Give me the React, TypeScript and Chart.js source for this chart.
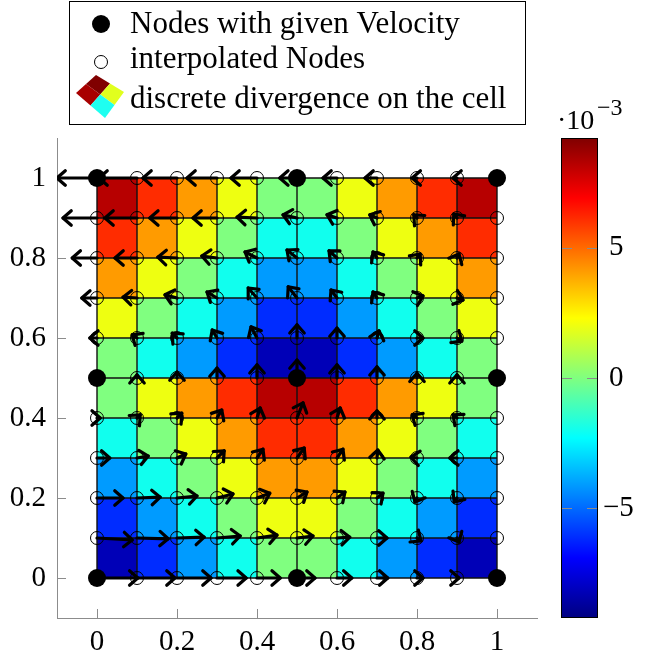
import React, { useEffect, useRef } from 'react';
import { Chart, registerables } from 'chart.js';

Chart.register(...registerables);

// Mesh node coordinates (unit square, 10 x 10 cells)
const NODE_X = [0, 0.1, 0.2, 0.3, 0.4, 0.5, 0.6, 0.7, 0.8, 0.9, 1];
const NODE_Y = [0, 0.1, 0.2, 0.3, 0.4, 0.5, 0.6, 0.7, 0.8, 0.9, 1];
// Nodes where the velocity is prescribed
const GIVEN_X = [0, 0.5, 1];
const GIVEN_Y = [0, 0.5, 1];

// Axis ticks
const X_TICKS = [0, 0.2, 0.4, 0.6, 0.8, 1];
const Y_TICKS = [0, 0.2, 0.4, 0.6, 0.8, 1];

// Discrete divergence per cell, in units of 1e-3 (rows from y = 0 upwards)
const DIV_ROW_0 = [-8.2, -6.1, -4.1, -2.0, 0, 0, -2.0, -4.1, -6.1, -8.2];
const DIV_ROW_1 = [-6.1, -4.1, -2.0, 0, 2.0, 2.0, 0, -2.0, -4.1, -6.1];
const DIV_ROW_2 = [-4.1, -2.0, 0, 2.0, 4.1, 4.1, 2.0, 0, -2.0, -4.1];
const DIV_ROW_3 = [-2.0, 0, 2.0, 4.1, 6.1, 6.1, 4.1, 2.0, 0, -2.0];
const DIV_ROW_4 = [0, 2.0, 4.1, 6.1, 8.2, 8.2, 6.1, 4.1, 2.0, 0];
const DIV_ROW_5 = [0, -2.0, -4.1, -6.1, -8.2, -8.2, -6.1, -4.1, -2.0, 0];
const DIV_ROW_6 = [2.0, 0, -2.0, -4.1, -6.1, -6.1, -4.1, -2.0, 0, 2.0];
const DIV_ROW_7 = [4.1, 2.0, 0, -2.0, -4.1, -4.1, -2.0, 0, 2.0, 4.1];
const DIV_ROW_8 = [6.1, 4.1, 2.0, 0, -2.0, -2.0, 0, 2.0, 4.1, 6.1];
const DIV_ROW_9 = [8.2, 6.1, 4.1, 2.0, 0, 0, 2.0, 4.1, 6.1, 8.2];
const DIVERGENCE = [DIV_ROW_0, DIV_ROW_1, DIV_ROW_2, DIV_ROW_3, DIV_ROW_4, DIV_ROW_5, DIV_ROW_6, DIV_ROW_7, DIV_ROW_8, DIV_ROW_9];

// Velocity at every node, x component (rows from y = 0 upwards)
const U_ROW_0 = [0.102, 0.095, 0.085, 0.073, 0.058, 0.045, 0.037, 0.027, 0.015, 0.005, 0];
const U_ROW_1 = [0.088, 0.078, 0.068, 0.058, 0.05, 0.04, 0.032, 0.025, 0.01, 0.005, 0];
const U_ROW_2 = [0.065, 0.058, 0.05, 0.04, 0.032, 0.025, 0.02, 0.015, -0.005, -0.007, 0];
const U_ROW_3 = [0.032, 0.028, 0.022, 0.018, 0.015, 0.018, 0.015, 0.002, -0.015, -0.018, 0];
const U_ROW_4 = [0.008, 0.008, 0.012, 0.012, 0.008, 0.015, 0.008, 0, -0.012, -0.01, 0];
const U_ROW_5 = [0, 0, 0, 0, 0, 0, 0, 0, 0, 0, 0];
const U_ROW_6 = [-0.018, -0.012, -0.012, -0.012, -0.015, 0, 0, 0.005, 0.015, 0.012, 0];
const U_ROW_7 = [-0.038, -0.035, -0.03, -0.025, -0.022, -0.022, -0.015, -0.01, 0.015, 0.015, 0];
const U_ROW_8 = [-0.062, -0.055, -0.048, -0.038, -0.03, -0.025, -0.02, -0.01, 0.008, 0.005, 0];
const U_ROW_9 = [-0.085, -0.08, -0.068, -0.06, -0.05, -0.035, -0.025, -0.018, -0.008, -0.008, 0];
const U_ROW_10 = [-0.1, -0.095, -0.085, -0.075, -0.065, -0.043, -0.035, -0.03, -0.012, -0.01, 0];
const VEL_U = [U_ROW_0, U_ROW_1, U_ROW_2, U_ROW_3, U_ROW_4, U_ROW_5, U_ROW_6, U_ROW_7, U_ROW_8, U_ROW_9, U_ROW_10];

// Velocity at every node, y component (rows from y = 0 upwards)
const V_ROW_0 = [0, 0, 0, 0, 0, 0, 0, 0, 0, 0, 0];
const V_ROW_1 = [-0.005, -0.002, 0.002, 0.005, 0.007, 0.005, 0.002, 0, -0.007, -0.01, 0];
const V_ROW_2 = [0, 0.002, 0.005, 0.01, 0.012, 0.015, 0.015, 0.012, -0.01, -0.01, 0];
const V_ROW_3 = [0, 0.005, 0.01, 0.018, 0.022, 0.025, 0.022, 0.02, 0.002, 0, 0];
const V_ROW_4 = [0, 0.008, 0.012, 0.02, 0.025, 0.038, 0.025, 0.018, 0.008, 0.008, 0];
const V_ROW_5 = [0, 0.008, 0.015, 0.025, 0.033, 0.045, 0.033, 0.028, 0.012, 0.008, 0];
const V_ROW_6 = [0, 0.008, 0.012, 0.02, 0.028, 0.033, 0.025, 0.018, 0, -0.008, 0];
const V_ROW_7 = [0, 0.002, 0.008, 0.015, 0.025, 0.028, 0.02, 0.015, 0.005, -0.005, 0];
const V_ROW_8 = [0, 0, 0.002, 0.005, 0.015, 0.02, 0.018, 0.015, 0.01, 0.01, 0];
const V_ROW_9 = [0, 0, 0, 0, 0.002, 0.008, 0.008, 0.008, 0.008, 0.01, 0];
const V_ROW_10 = [0, 0, 0, 0, 0, 0, 0, 0, 0, 0, 0];
const VEL_V = [V_ROW_0, V_ROW_1, V_ROW_2, V_ROW_3, V_ROW_4, V_ROW_5, V_ROW_6, V_ROW_7, V_ROW_8, V_ROW_9, V_ROW_10];

// Colour bar (units of 1e-3)
const CB_MIN = -9.2;
const CB_MAX = 9.2;
const CB_TICKS = [-5, 0, 5];
const CB_EXPONENT = '−3';

const LEGEND_LABELS = ['Nodes with given Velocity', 'interpolated Nodes', 'discrete divergence on the cell'];

const SERIF = '"Liberation Serif", "Times New Roman", serif';
const AXIS_GRAY = '#8c8c8c';

// pgfplots "jet" colour map
const JET_STOPS: [number, number, number, number][] = [
  [0, 0, 0, 128],
  [0.125, 0, 0, 255],
  [0.375, 0, 255, 255],
  [0.625, 255, 255, 0],
  [0.875, 255, 0, 0],
  [1, 128, 0, 0],
];

function jet(t: number): string {
  const tt = Math.max(0, Math.min(1, t));
  for (let k = 1; k < JET_STOPS.length; k++) {
    const b = JET_STOPS[k];
    if (tt <= b[0]) {
      const a = JET_STOPS[k - 1];
      const f = (tt - a[0]) / (b[0] - a[0]);
      const r = Math.round(a[1] + (b[1] - a[1]) * f);
      const g = Math.round(a[2] + (b[2] - a[2]) * f);
      const bl = Math.round(a[3] + (b[3] - a[3]) * f);
      return `rgb(${r},${g},${bl})`;
    }
  }
  return 'rgb(128,0,0)';
}

function drawArrow(ctx: CanvasRenderingContext2D, x0: number, y0: number, x1: number, y1: number) {
  const dx = x1 - x0;
  const dy = y1 - y0;
  if (Math.hypot(dx, dy) < 0.5) return;
  const ang = Math.atan2(dy, dx);
  ctx.beginPath();
  ctx.moveTo(x0, y0);
  ctx.lineTo(x1, y1);
  ctx.stroke();
  const h = 11;
  const spread = 0.72;
  ctx.beginPath();
  ctx.moveTo(x1 - h * Math.cos(ang - spread), y1 - h * Math.sin(ang - spread));
  ctx.lineTo(x1, y1);
  ctx.lineTo(x1 - h * Math.cos(ang + spread), y1 - h * Math.sin(ang + spread));
  ctx.stroke();
}

// Cells, cell edges and velocity arrows, drawn beneath the node markers
const fieldPlugin = {
  id: 'divergenceField',
  beforeDatasetsDraw(chart: any) {
    const { ctx, scales } = chart;
    const xs = scales.x;
    const ys = scales.y;
    const cb = scales.cb;
    ctx.save();
    for (let j = 0; j < DIVERGENCE.length; j++) {
      for (let i = 0; i < DIVERGENCE[j].length; i++) {
        const x0 = xs.getPixelForValue(NODE_X[i]);
        const x1 = xs.getPixelForValue(NODE_X[i + 1]);
        const y0 = ys.getPixelForValue(NODE_Y[j]);
        const y1 = ys.getPixelForValue(NODE_Y[j + 1]);
        const t = (cb.bottom - cb.getPixelForValue(DIVERGENCE[j][i])) / (cb.bottom - cb.top);
        ctx.fillStyle = jet(t);
        ctx.fillRect(x0, y1, x1 - x0, y0 - y1);
      }
    }
    ctx.strokeStyle = '#111';
    ctx.lineWidth = 1.4;
    const left = xs.getPixelForValue(NODE_X[0]);
    const right = xs.getPixelForValue(NODE_X[NODE_X.length - 1]);
    const bottom = ys.getPixelForValue(NODE_Y[0]);
    const top = ys.getPixelForValue(NODE_Y[NODE_Y.length - 1]);
    ctx.beginPath();
    for (const v of NODE_X) {
      const p = xs.getPixelForValue(v);
      ctx.moveTo(p, bottom);
      ctx.lineTo(p, top);
    }
    for (const v of NODE_Y) {
      const p = ys.getPixelForValue(v);
      ctx.moveTo(left, p);
      ctx.lineTo(right, p);
    }
    ctx.stroke();

    // tick marks on the inside of the axes
    ctx.strokeStyle = AXIS_GRAY;
    ctx.lineWidth = 1;
    ctx.beginPath();
    for (const v of X_TICKS) {
      const p = Math.round(xs.getPixelForValue(v)) + 0.5;
      ctx.moveTo(p, chart.chartArea.bottom);
      ctx.lineTo(p, chart.chartArea.bottom - 9);
    }
    for (const v of Y_TICKS) {
      const p = Math.round(ys.getPixelForValue(v)) + 0.5;
      ctx.moveTo(chart.chartArea.left, p);
      ctx.lineTo(chart.chartArea.left + 9, p);
    }
    ctx.stroke();

    // velocity arrows
    ctx.beginPath();
    ctx.rect(chart.chartArea.left, chart.chartArea.top, chart.chartArea.right - chart.chartArea.left, chart.chartArea.bottom - chart.chartArea.top);
    ctx.clip();
    ctx.strokeStyle = '#000';
    ctx.lineWidth = 3.2;
    ctx.lineCap = 'round';
    ctx.lineJoin = 'round';
    for (let j = 0; j < NODE_Y.length; j++) {
      for (let i = 0; i < NODE_X.length; i++) {
        const px = xs.getPixelForValue(NODE_X[i]);
        const py = ys.getPixelForValue(NODE_Y[j]);
        const qx = xs.getPixelForValue(NODE_X[i] + VEL_U[j][i]);
        const qy = ys.getPixelForValue(NODE_Y[j] + VEL_V[j][i]);
        drawArrow(ctx, px, py, qx, qy);
      }
    }
    ctx.restore();
  },
  afterDraw(chart: any) {
    const { ctx, scales } = chart;
    const cb = scales.cb;
    ctx.save();

    // colour bar
    const cbLeft = 561;
    const cbRight = 598;
    const cbTop = cb.getPixelForValue(CB_MAX);
    const cbBottom = cb.getPixelForValue(CB_MIN);
    const grad = ctx.createLinearGradient(0, cbBottom, 0, cbTop);
    for (const s of JET_STOPS) grad.addColorStop(s[0], `rgb(${s[1]},${s[2]},${s[3]})`);
    ctx.fillStyle = grad;
    ctx.fillRect(cbLeft, cbTop, cbRight - cbLeft, cbBottom - cbTop);
    ctx.strokeStyle = AXIS_GRAY;
    ctx.lineWidth = 1;
    ctx.beginPath();
    for (const v of CB_TICKS) {
      const p = Math.round(cb.getPixelForValue(v)) + 0.5;
      ctx.moveTo(cbLeft, p);
      ctx.lineTo(cbLeft + 11, p);
      ctx.moveTo(cbRight, p);
      ctx.lineTo(cbRight - 11, p);
    }
    ctx.stroke();
    ctx.strokeStyle = '#000';
    ctx.strokeRect(cbLeft + 0.5, Math.round(cbTop) + 0.5, cbRight - cbLeft - 1, Math.round(cbBottom - cbTop) - 1);

    ctx.fillStyle = '#000';
    ctx.font = `29px ${SERIF}`;
    ctx.textAlign = 'left';
    ctx.textBaseline = 'middle';
    for (const v of CB_TICKS) {
      const label = v < 0 ? `−${Math.abs(v)}` : `${v}`;
      ctx.fillText(label, v < 0 ? 603 : 609, cb.getPixelForValue(v));
    }
    ctx.textBaseline = 'alphabetic';
    ctx.font = `28px ${SERIF}`;
    ctx.fillText('·10', 557, 129);
    ctx.font = `24px ${SERIF}`;
    ctx.fillText(CB_EXPONENT, 597, 115);

    // legend
    ctx.strokeStyle = '#000';
    ctx.lineWidth = 1;
    ctx.strokeRect(69.5, 1.5, 456, 123);
    ctx.fillStyle = '#000';
    ctx.beginPath();
    ctx.arc(101, 24, 9, 0, Math.PI * 2);
    ctx.fill();
    ctx.beginPath();
    ctx.arc(101, 62, 6.5, 0, Math.PI * 2);
    ctx.stroke();

    const T: [number, number] = [96, 75];
    const R: [number, number] = [124, 92];
    const B: [number, number] = [105, 118];
    const L: [number, number] = [76, 93];
    const mid = (a: [number, number], b: [number, number]): [number, number] => [(a[0] + b[0]) / 2, (a[1] + b[1]) / 2];
    const C: [number, number] = [(T[0] + R[0] + B[0] + L[0]) / 4, (T[1] + R[1] + B[1] + L[1]) / 4];
    const quads: [[number, number][], string][] = [
      [[T, mid(T, R), C, mid(L, T)], 'rgb(128,0,0)'],
      [[mid(L, T), C, mid(B, L), L], 'rgb(168,0,0)'],
      [[mid(T, R), R, mid(R, B), C], 'rgb(225,255,30)'],
      [[C, mid(R, B), B, mid(B, L)], 'rgb(30,255,240)'],
    ];
    for (const [pts, col] of quads) {
      ctx.fillStyle = col;
      ctx.beginPath();
      ctx.moveTo(pts[0][0], pts[0][1]);
      for (let k = 1; k < pts.length; k++) ctx.lineTo(pts[k][0], pts[k][1]);
      ctx.closePath();
      ctx.fill();
    }

    ctx.fillStyle = '#000';
    ctx.font = `31px ${SERIF}`;
    ctx.textAlign = 'left';
    ctx.textBaseline = 'alphabetic';
    ctx.fillText(LEGEND_LABELS[0], 130, 33);
    ctx.fillText(LEGEND_LABELS[1], 130, 68);
    ctx.fillText(LEGEND_LABELS[2], 130, 108);
    ctx.restore();
  },
};

function isGiven(x: number, y: number) {
  return GIVEN_X.includes(x) && GIVEN_Y.includes(y);
}

export default function App() {
  const canvasRef = useRef<HTMLCanvasElement | null>(null);

  useEffect(() => {
    const canvas = canvasRef.current;
    if (!canvas) return;
    const given: { x: number; y: number }[] = [];
    const interpolated: { x: number; y: number }[] = [];
    for (const y of NODE_Y) {
      for (const x of NODE_X) {
        (isGiven(x, y) ? given : interpolated).push({ x, y });
      }
    }
    const tickFont = { family: SERIF, size: 29 };
    const chart = new Chart(canvas, {
      type: 'scatter',
      data: {
        datasets: [
          {
            label: LEGEND_LABELS[1],
            data: interpolated,
            pointRadius: 6.5,
            pointBorderWidth: 1,
            pointBackgroundColor: 'rgba(0,0,0,0)',
            pointBorderColor: '#000',
          },
          {
            label: LEGEND_LABELS[0],
            data: given,
            pointRadius: 9,
            pointBorderWidth: 0,
            pointBackgroundColor: '#000',
            pointBorderColor: '#000',
          },
        ],
      },
      options: {
        responsive: false,
        animation: false,
        devicePixelRatio: 1,
        events: [],
        layout: { padding: { left: 0, top: 138, right: 108, bottom: 0 } },
        plugins: { legend: { display: false }, tooltip: { enabled: false } },
        scales: {
          x: {
            type: 'linear',
            min: -0.1,
            max: 1.1,
            afterFit: (s: any) => {
              s.height = 41;
            },
            afterBuildTicks: (s: any) => {
              s.ticks = X_TICKS.map((v) => ({ value: v }));
            },
            grid: { display: false, drawTicks: false },
            border: { display: true, color: AXIS_GRAY, width: 1 },
            ticks: {
              font: tickFont,
              color: '#000',
              padding: 7,
              maxRotation: 0,
              autoSkip: false,
              callback: (v: any) => `${Math.round(Number(v) * 10) / 10}`,
            },
          },
          y: {
            type: 'linear',
            min: -0.1,
            max: 1.1,
            afterFit: (s: any) => {
              s.width = 57;
            },
            afterBuildTicks: (s: any) => {
              s.ticks = Y_TICKS.map((v) => ({ value: v }));
            },
            grid: { display: false, drawTicks: false },
            border: { display: true, color: AXIS_GRAY, width: 1 },
            ticks: {
              font: tickFont,
              color: '#000',
              padding: 11,
              autoSkip: false,
              callback: (v: any) => `${Math.round(Number(v) * 10) / 10}`,
            },
          },
          cb: {
            type: 'linear',
            axis: 'y',
            display: false,
            min: CB_MIN,
            max: CB_MAX,
          },
        },
      } as any,
      plugins: [fieldPlugin],
    });
    return () => chart.destroy();
  }, []);

  return (
    <div style={{ position: 'absolute', left: 0, top: 0, width: 645, height: 659, background: '#fff' }}>
      <canvas ref={canvasRef} width={645} height={659} style={{ display: 'block' }} />
    </div>
  );
}
